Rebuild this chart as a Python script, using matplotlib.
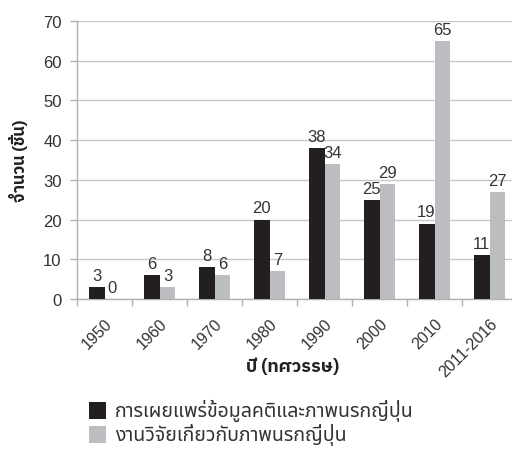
import matplotlib
matplotlib.use("Agg")
import matplotlib.pyplot as plt
from matplotlib.patches import Rectangle
import numpy as np

categories = ["1950", "1960", "1970", "1980", "1990", "2000", "2010", "2011-2016"]
publications = [3, 6, 8, 20, 38, 25, 19, 11]
research = [0, 3, 6, 7, 34, 29, 65, 27]
series_names = ["การเผยแพร่ข้อมูลคติและภาพนรกญี่ปุ่น", "งานวิจัยเกี่ยวกับภาพนรกญี่ปุ่น"]
ylabel = "จำนวน (ชิ้น)"
xlabel = "ปี (ทศวรรษ)"

LAT = ["Liberation Sans", "DejaVu Sans"]
THAI = ["Noto Sans Thai", "Noto Sans", "DejaVu Sans"]
THAI_B = ["IBM Plex Sans Thai", "Noto Sans Thai", "Noto Sans", "DejaVu Sans"]
BLACK = "#231f20"
GRAY = "#bcbdc0"
TXT = "#333333"
colors = [BLACK, GRAY]

fig = plt.figure(figsize=(5.12, 4.56), dpi=100)
ax = fig.add_axes([77/512, 1-300/456, 440/512, 278/456])

x = np.arange(len(categories))
w = 0.29
ax.bar(x - w/2, publications, w, color=BLACK, zorder=3)
ax.bar(x + w/2, research, w, color=GRAY, zorder=3)

for xi, v in zip(x, publications):
    ax.annotate(str(v), (xi - w/2, v), xytext=(0, 3), textcoords="offset points",
                ha="center", va="bottom", fontsize=12, family=LAT, color=TXT)
for xi, v in zip(x, research):
    ax.annotate(str(v), (xi + w/2, v), xytext=(0, 3), textcoords="offset points",
                ha="center", va="bottom", fontsize=12, family=LAT, color=TXT)

ax.set_xlim(-0.5, len(categories) - 0.5)
ax.set_ylim(0, 70)
ax.set_yticks(range(0, 71, 10))
ax.yaxis.grid(True, color="#c8c8c8", linewidth=1, zorder=0)
ax.set_axisbelow(True)

ax.set_xticks(x)
ax.set_xticklabels(categories, rotation=45, ha="right", rotation_mode="anchor",
                   fontsize=11.5, family=LAT, color=TXT)
ax.set_xticks(np.arange(-0.5, len(categories), 1), minor=True)
ax.tick_params(axis="x", which="major", length=0, pad=12)
ax.tick_params(axis="x", which="minor", length=5, color="#b0b0b0", width=1)
ax.tick_params(axis="y", length=5, color="#b0b0b0", width=1, labelsize=12,
               labelcolor=TXT, pad=6)
for lab in ax.get_yticklabels():
    lab.set_family(LAT)

for s in ["top", "right"]:
    ax.spines[s].set_visible(False)
for s in ["left", "bottom"]:
    ax.spines[s].set_color("#b0b0b0")
    ax.spines[s].set_linewidth(1)

fig.text(18/512, 1-161/456, ylabel, rotation=90, ha="center", va="center",
         fontsize=12, fontweight="bold", family=THAI_B, color="#222222")
fig.text(293/512, 1-367/456, xlabel, ha="center", va="center",
         fontsize=13, fontweight="bold", family=THAI_B, color="#222222")

# legend drawn manually in figure pixel coordinates
row_y = [411, 435]
for name, c, yc in zip(series_names, colors, row_y):
    fig.patches.append(Rectangle((89/512, 1-(yc+8.5)/456), 17/512, 17/456,
                                 transform=fig.transFigure, facecolor=c,
                                 edgecolor="none"))
    fig.text(115/512, 1-yc/456, name, ha="left", va="center",
             fontsize=14, family=THAI, color=TXT)

fig.savefig("out.png", dpi=100)
